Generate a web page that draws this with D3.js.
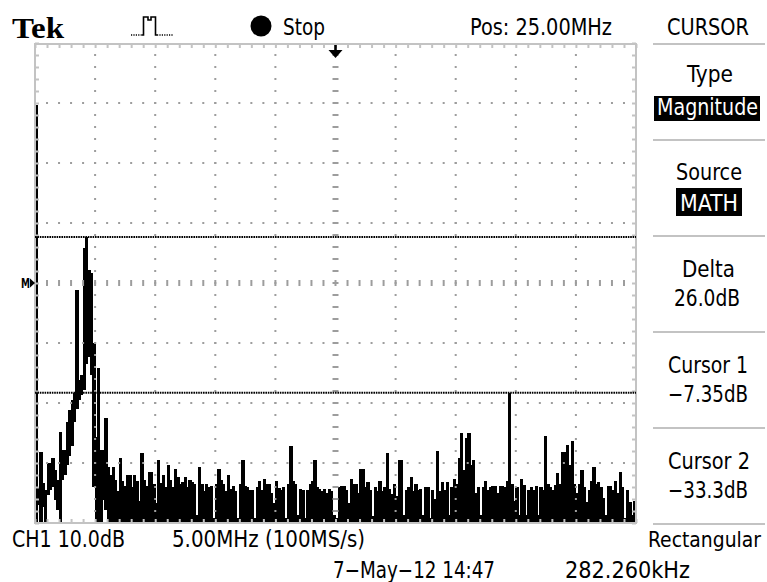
<!DOCTYPE html>
<html>
<head>
<meta charset="utf-8">
<script src="https://cdn.jsdelivr.net/npm/d3@7"></script>
<style>
  html, body { margin: 0; padding: 0; background: #fff; }
  svg { display: block; }
  text { font-family: "DejaVu Sans Condensed", "DejaVu Sans", sans-serif; font-stretch: condensed; fill: #000; }
</style>
</head>
<body>
<svg id="scope" width="767" height="582"></svg>
<script>
// FFT of CH1 over 0–50 MHz, decimated to 250 display columns of 0.2 MHz.
// Each column is drawn from its minimum to its maximum magnitude (dB).
const columnWidthMHz = 0.2;
const columnPeakDb = [
  14.7, -49.0, -43.2, -48.3, -49.5, -45.0, -45.0, -44.2, -46.2, -47.8,
  -39.8, -42.8, -42.8, -38.2, -36.2, -34.5, -33.3, -16.2, -31.2, -30.3,
  -9.2, -7.35, -12.8, -13.3, -25.0, -40.7, -29.2, -42.8, -42.8, -37.5,
  -45.7, -47.0, -45.7, -47.8, -49.7, -44.2, -48.0, -48.8, -47.0, -47.0,
  -49.0, -47.0, -48.0, -51.3, -43.3, -47.8, -48.8, -46.5, -46.5, -48.5,
  -51.7, -44.5, -48.3, -47.0, -49.0, -45.3, -47.8, -49.0, -46.0, -47.3,
  -48.5, -48.2, -47.3, -49.0, -47.8, -48.2, -48.5, -53.7, -45.7, -48.5,
  -49.7, -48.5, -49.0, -48.8, -54.2, -48.5, -46.0, -47.8, -48.5, -49.7,
  -47.0, -49.3, -48.8, -49.7, -54.2, -48.5, -44.5, -48.8, -49.0, -49.5,
  -49.5, -54.2, -49.0, -48.0, -49.5, -47.7, -48.5, -48.5, -50.0, -51.7,
  -48.0, -49.2, -49.5, -49.0, -54.2, -48.5, -42.2, -48.0, -48.5, -53.7,
  -49.3, -49.5, -54.2, -49.5, -48.5, -48.0, -44.5, -49.0, -49.3, -49.7,
  -49.3, -50.0, -49.3, -49.7, -53.7, -54.2, -49.0, -48.8, -48.8, -49.5,
  -51.7, -47.7, -48.5, -48.5, -50.0, -46.0, -46.0, -49.0, -48.2, -49.5,
  -53.8, -49.0, -49.7, -48.0, -49.7, -49.0, -43.3, -49.3, -50.2, -48.5,
  -50.5, -44.5, -44.5, -53.7, -49.5, -49.0, -47.3, -49.7, -48.5, -49.5,
  -49.3, -53.7, -49.0, -49.0, -54.2, -49.5, -51.0, -43.0, -49.7, -48.2,
  -49.5, -48.2, -53.7, -49.0, -47.7, -48.5, -44.2, -40.0, -46.2, -40.8,
  -40.0, -45.3, -44.5, -50.0, -49.0, -53.7, -49.0, -48.0, -49.5, -49.0,
  -48.8, -48.8, -50.0, -48.8, -48.8, -49.0, -48.0, -33.3, -48.5, -51.3,
  -49.0, -53.7, -47.7, -48.7, -53.7, -49.5, -49.0, -49.5, -48.8, -53.7,
  -49.0, -49.5, -40.5, -48.5, -49.0, -49.5, -48.7, -46.7, -48.5, -43.2,
  -43.2, -42.0, -45.3, -41.3, -48.5, -50.0, -48.5, -46.2, -49.0, -51.5,
  -49.5, -48.0, -45.7, -48.5, -48.2, -49.0, -50.8, -53.7, -48.8, -48.8,
  -49.5, -48.0, -50.0, -46.5, -49.0, -54.2, -49.5, -51.5, -53.7, -51.3
];
// Column minima around the carrier; beyond these the minima fall below the screen.
const columnFloorDb = [
  -55, -52.0, -55, -52.3, -55, -50.3, -49.5, -49.0, -51.2, -52.8,
  -55, -47.8, -47.0, -45.3, -43.8, -42.2, -38.2, -36.0, -34.5, -33.7,
  -32.8, -28.5, -27.3, -30.3, -49.0, -55, -55, -55, -51.2, -52.8
];

// Screen span and vertical window
const spanMHz = [0, 50];
const levelDb = [-55, 25];
const majorMHz = [0, 5, 10, 15, 20, 25, 30, 35, 40, 45, 50];
const majorDb = [-55, -45, -35, -25, -15, -5, 5, 15, 25];
const centerMHz = 25;
const centerDb = -15;

// Cursor readouts
const cursorDb = [-7.35, -33.3];
const deltaLabel = "26.0dB";

// Readout texts
const headerLabels = { brand: "Tek", state: "Stop", position: "Pos: 25.00MHz", menu: "CURSOR" };
const footerLabels = { channel: "CH1 10.0dB", timebase: "5.00MHz (100MS/s)", window: "Rectangular", stamp: "7\u2212May\u221212 14:47", readout: "282.260kHz" };

const svg = d3.select("#scope");
const plot = { left: 35, right: 636, top: 43, bottom: 523 };
const frameGrey = "#c3c3c3";
const dotGrey = "#9d9d9d";

const x = d3.scaleLinear().domain(spanMHz).range([plot.left, plot.right]);
const y = d3.scaleLinear().domain(levelDb).range([plot.bottom, plot.top]);

const minorMHz = d3.range(spanMHz[0], spanMHz[1] + 0.001, 1);
const minorDb = d3.range(levelDb[0], levelDb[1] + 0.001, 2);

// ---- trace: one min/max bar per display column (pen slightly wider than a column) ----
const columns = columnPeakDb.map((peak, i) => ({
  f0: i * columnWidthMHz,
  f1: (i + 1) * columnWidthMHz,
  peak,
  floor: i < columnFloorDb.length ? columnFloorDb[i] : levelDb[0]
}));
const pen = 0.8;

svg.append("g")
  .attr("shape-rendering", "crispEdges")
  .selectAll("rect").data(columns).join("rect")
  .attr("x", d => Math.max(plot.left, x(d.f0) - pen / 2))
  .attr("width", d => Math.min(plot.right, x(d.f1) + pen / 2) - Math.max(plot.left, x(d.f0) - pen / 2))
  .attr("y", d => y(d.peak))
  .attr("height", d => y(d.floor) - y(d.peak))
  .attr("fill", "#000");

// ---- graticule ----
const grid = svg.append("g");

// dotted interior lines
majorMHz.filter(f => f > spanMHz[0] && f < spanMHz[1] && f !== centerMHz).forEach(f => {
  grid.selectAll(null).data(minorDb.slice(1, -1)).join("rect")
    .attr("x", x(f) - 1).attr("y", d => y(d) - 1)
    .attr("width", 2).attr("height", 2).attr("fill", dotGrey);
});
majorDb.filter(v => v > levelDb[0] && v < levelDb[1] && v !== centerDb).forEach(v => {
  grid.selectAll(null).data(minorMHz.slice(1, -1)).join("rect")
    .attr("x", d => x(d) - 1).attr("y", y(v) - 1)
    .attr("width", 2).attr("height", 2).attr("fill", dotGrey);
});

// centre cross: short tick marks
grid.selectAll(null).data(minorMHz.slice(1, -1)).join("line")
  .attr("x1", d => x(d)).attr("x2", d => x(d))
  .attr("y1", y(centerDb) - 3).attr("y2", y(centerDb) + 3)
  .attr("stroke", dotGrey).attr("stroke-width", 2);
grid.selectAll(null).data(minorDb.slice(1, -1)).join("line")
  .attr("x1", x(centerMHz) - 3).attr("x2", x(centerMHz) + 3)
  .attr("y1", d => y(d)).attr("y2", d => y(d))
  .attr("stroke", dotGrey).attr("stroke-width", 2);

// frame ticks drawn with axes, pointing inward
function frameAxis(axis, transform) {
  const g = grid.append("g").attr("transform", transform).call(axis);
  g.select(".domain").remove();
  g.selectAll(".tick text").remove();
  g.selectAll(".tick line").attr("stroke", frameGrey).attr("stroke-width", 2);
}
frameAxis(d3.axisBottom(x).tickValues(minorMHz).tickSize(4).tickFormat(""), `translate(0,${plot.top + 1})`);
frameAxis(d3.axisTop(x).tickValues(minorMHz).tickSize(4).tickFormat(""), `translate(0,${plot.bottom})`);
frameAxis(d3.axisRight(y).tickValues(minorDb).tickSize(4).tickFormat(""), `translate(${plot.left},0)`);
frameAxis(d3.axisLeft(y).tickValues(minorDb).tickSize(4).tickFormat(""), `translate(${plot.right},0)`);

grid.append("rect")
  .attr("x", plot.left).attr("y", plot.top + 1)
  .attr("width", plot.right - plot.left).attr("height", plot.bottom - plot.top - 1)
  .attr("fill", "none").attr("stroke", frameGrey).attr("stroke-width", 2);

// ---- cursors ----
svg.selectAll(null).data(cursorDb).join("line")
  .attr("x1", plot.left).attr("x2", plot.right)
  .attr("y1", d => y(d)).attr("y2", d => y(d))
  .attr("stroke", "#000").attr("stroke-width", 2)
  .attr("stroke-dasharray", "1.6,0.8");

// ---- markers ----
// trigger position arrow at the horizontal centre
const tx = x(centerMHz);
svg.append("line").attr("x1", tx).attr("x2", tx).attr("y1", plot.top + 2).attr("y2", plot.top + 9)
  .attr("stroke", "#000").attr("stroke-width", 2.6);
svg.append("path")
  .attr("d", `M${tx - 7},${plot.top + 7}L${tx + 7},${plot.top + 7}L${tx},${plot.top + 15}Z`)
  .attr("fill", "#000");

// math reference marker on the left
const my = y(centerDb);
svg.append("text").attr("x", 21).attr("y", my + 5).attr("font-size", 14).attr("font-weight", "bold")
  .attr("textLength", 9).attr("lengthAdjust", "spacingAndGlyphs").text("M");
svg.append("path").attr("d", `M${30},${my - 4.5}L${35},${my}L${30},${my + 4.5}Z`).attr("fill", "#000");

// ---- header ----
svg.append("text").attr("x", 12).attr("y", 38)
  .style("font-family", "'Liberation Serif', 'DejaVu Serif', serif")
  .style("font-stretch", "normal")
  .attr("font-size", 29).attr("font-weight", "bold")
  .attr("textLength", 52).attr("lengthAdjust", "spacingAndGlyphs")
  .text(headerLabels.brand);

// acquisition (pulse) icon
const icon = svg.append("g").attr("fill", "none").attr("stroke", "#000").attr("stroke-width", 1.6);
icon.append("path").attr("d", "M131,35 L142,35").attr("stroke-dasharray", "1.2,1.2");
icon.append("path").attr("d", "M142,35 L143.5,35 L143.5,17 L148,17 L148,20 L151,20 L151,17 L155.5,17 L155.5,35 L157,35");
icon.append("path").attr("d", "M157,35 L173,35").attr("stroke-dasharray", "1.2,1.2");

svg.append("circle").attr("cx", 261).attr("cy", 26).attr("r", 10.5).attr("fill", "#000");

const header = [
  { t: headerLabels.state, x: 283, y: 35, w: 42 },
  { t: headerLabels.position, x: 470, y: 35, w: 142 },
  { t: headerLabels.menu, x: 667, y: 35, w: 82 }
];
svg.selectAll(null).data(header).join("text")
  .attr("x", d => d.x).attr("y", d => d.y).attr("font-size", 23)
  .attr("textLength", d => d.w).attr("lengthAdjust", "spacingAndGlyphs")
  .text(d => d.t);

// ---- side menu ----
const menuRules = [44, 140, 236, 332, 428, 524];
svg.selectAll(null).data(menuRules).join("line")
  .attr("x1", 653).attr("x2", 765).attr("y1", d => d).attr("y2", d => d)
  .attr("stroke", frameGrey).attr("stroke-width", 2);

const fmtDb = d3.format(".2f");
const fmtDb3 = d3.format(".3");
const minus = s => s.replace("-", "\u2212");

// highlighted option boxes
svg.append("rect").attr("x", 654).attr("y", 96).attr("width", 106).attr("height", 25).attr("fill", "#000");
svg.append("rect").attr("x", 676).attr("y", 188).attr("width", 66).attr("height", 28).attr("fill", "#000");

const menu = [
  { t: "Type", x: 687, y: 82, w: 46 },
  { t: "Magnitude", x: 657, y: 115, w: 101, inv: true },
  { t: "Source", x: 676, y: 180, w: 66 },
  { t: "MATH", x: 680, y: 211, w: 58, inv: true },
  { t: "Delta", x: 682, y: 277, w: 53 },
  { t: deltaLabel, x: 674, y: 306, w: 66 },
  { t: "Cursor 1", x: 668, y: 373, w: 80 },
  { t: minus(fmtDb(cursorDb[0])) + "dB", x: 668, y: 402, w: 80 },
  { t: "Cursor 2", x: 668, y: 469, w: 82 },
  { t: minus(fmtDb3(cursorDb[1])) + "dB", x: 668, y: 498, w: 80 }
];
svg.selectAll(null).data(menu).join("text")
  .attr("x", d => d.x).attr("y", d => d.y).attr("font-size", 23)
  .attr("textLength", d => d.w).attr("lengthAdjust", "spacingAndGlyphs")
  .style("fill", d => d.inv ? "#fff" : "#000")
  .text(d => d.t);

// ---- footer ----
const footer = [
  { t: footerLabels.channel, x: 12, y: 547, w: 113, anchor: "start", size: 23 },
  { t: footerLabels.timebase, x: 172, y: 547, w: 193, anchor: "start", size: 23 },
  { t: footerLabels.window, x: 761, y: 547, w: 113, anchor: "end", size: 22 },
  { t: footerLabels.stamp, x: 333, y: 578, w: 162, anchor: "start", size: 23 },
  { t: footerLabels.readout, x: 565, y: 578, w: 125, anchor: "start", size: 23 }
];
svg.selectAll(null).data(footer).join("text")
  .attr("x", d => d.x).attr("y", d => d.y).attr("font-size", d => d.size)
  .attr("text-anchor", d => d.anchor)
  .attr("textLength", d => d.w).attr("lengthAdjust", "spacingAndGlyphs")
  .text(d => d.t);
</script>
</body>
</html>
